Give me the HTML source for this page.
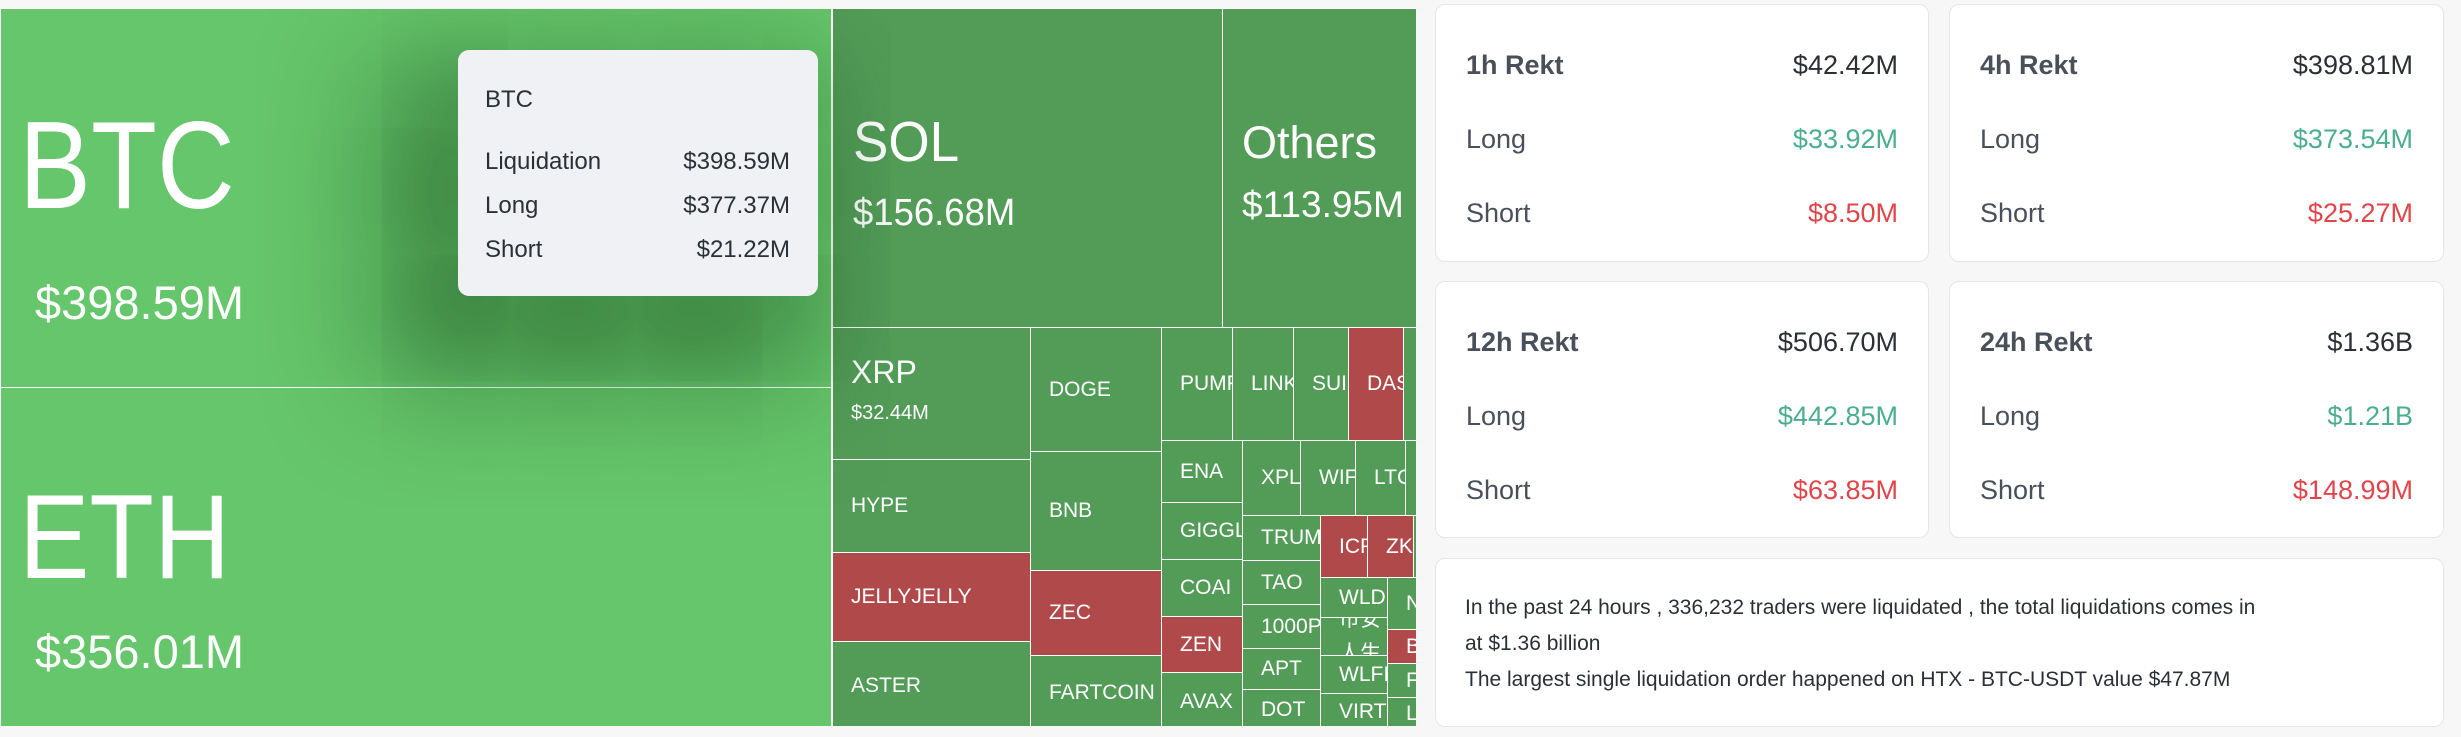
<!DOCTYPE html>
<html><head><meta charset="utf-8"><style>
*{margin:0;padding:0;box-sizing:border-box}
body{width:2461px;height:737px;background:#f7f7f8;position:relative;overflow:hidden;font-family:"Liberation Sans","Noto Sans CJK SC",sans-serif}
.t{position:absolute;border:1px solid #fff;background:#539c58;color:#fff;overflow:hidden;display:flex;align-items:center;padding-left:18px;font-size:21px;white-space:nowrap}
.r{background:#b04a4a}
.lg{background:#66c66b;display:block;padding:0}
.card{position:absolute;background:#fff;border:1.5px solid #e6e6e8;border-radius:10px}
.row{position:absolute;left:30px;right:30px;display:flex;justify-content:space-between;font-size:27px;line-height:30px;color:#4a505a}
.row b{font-weight:bold;color:#4a505a}
.v{color:#2b2f36}.g{color:#4aae8f}.rd{color:#e0454a}
</style></head><body>
<div id="tm" style="position:absolute;left:0;top:8px;width:1416px;height:718px;overflow:hidden">
<div class="t lg" style="left:0;top:0;width:832px;height:380px">
 <div style="position:absolute;left:18px;top:92px;font-size:124px;line-height:130px;transform:scaleX(0.87);transform-origin:left">BTC</div>
 <div style="position:absolute;left:34px;top:266px;font-size:47px;line-height:55px">$398.59M</div>
</div>
<div class="t lg" style="left:0;top:379px;width:832px;height:340px">
 <div style="position:absolute;left:18px;top:84px;font-size:120px;line-height:130px;transform:scaleX(0.88);transform-origin:left">ETH</div>
 <div style="position:absolute;left:34px;top:236px;font-size:47px;line-height:55px">$356.01M</div>
</div>
<div class="t" style="left:832px;top:0;width:391px;height:320px;display:block;padding:0">
 <div style="position:absolute;left:20px;top:100px;font-size:57px;line-height:66px;transform:scaleX(0.93);transform-origin:left">SOL</div>
 <div style="position:absolute;left:20px;top:182px;font-size:38px;line-height:44px;transform:scaleX(0.96);transform-origin:left">$156.68M</div>
</div>
<div class="t" style="left:1222px;top:0;width:196px;height:320px;display:block;padding:0">
 <div style="position:absolute;left:19px;top:108px;font-size:45px;line-height:52px">Others</div>
 <div style="position:absolute;left:19px;top:174px;font-size:37px;line-height:44px">$113.95M</div>
</div>
<div class="t" style="left:832px;top:319px;width:199px;height:133px;display:block;padding:0">
 <div style="position:absolute;left:18px;top:26px;font-size:32px;line-height:36px">XRP</div>
 <div style="position:absolute;left:18px;top:73px;font-size:20px;line-height:24px">$32.44M</div>
</div>
<div class="t" style="left:832px;top:451px;width:199px;height:94px">HYPE</div>
<div class="t r" style="left:832px;top:544px;width:199px;height:90px">JELLYJELLY</div>
<div class="t" style="left:832px;top:633px;width:199px;height:90px">ASTER</div>
<div class="t" style="left:1030px;top:319px;width:132px;height:125px">DOGE</div>
<div class="t" style="left:1030px;top:443px;width:132px;height:120px">BNB</div>
<div class="t r" style="left:1030px;top:562px;width:132px;height:86px">ZEC</div>
<div class="t" style="left:1030px;top:647px;width:132px;height:76px">FARTCOIN</div>
<div class="t" style="left:1161px;top:319px;width:72px;height:114px">PUMP</div>
<div class="t" style="left:1232px;top:319px;width:62px;height:114px">LINK</div>
<div class="t" style="left:1293px;top:319px;width:56px;height:114px">SUI</div>
<div class="t r" style="left:1348px;top:319px;width:56px;height:114px">DASH</div>
<div class="t" style="left:1403px;top:319px;width:20px;height:114px"></div>
<div class="t" style="left:1161px;top:432px;width:82px;height:63px">ENA</div>
<div class="t" style="left:1161px;top:494px;width:82px;height:58px">GIGGLE</div>
<div class="t" style="left:1161px;top:551px;width:82px;height:58px">COAI</div>
<div class="t r" style="left:1161px;top:608px;width:82px;height:57px">ZEN</div>
<div class="t" style="left:1161px;top:664px;width:82px;height:59px">AVAX</div>
<div class="t" style="left:1242px;top:432px;width:59px;height:76px">XPL</div>
<div class="t" style="left:1300px;top:432px;width:56px;height:76px">WIF</div>
<div class="t" style="left:1355px;top:432px;width:51px;height:76px">LTC</div>
<div class="t" style="left:1405px;top:432px;width:20px;height:76px"></div>
<div class="t" style="left:1242px;top:507px;width:79px;height:46px">TRUMP</div>
<div class="t" style="left:1242px;top:552px;width:79px;height:45px">TAO</div>
<div class="t" style="left:1242px;top:596px;width:79px;height:45px">1000PEPE</div>
<div class="t" style="left:1242px;top:640px;width:79px;height:42px">APT</div>
<div class="t" style="left:1242px;top:681px;width:79px;height:42px">DOT</div>
<div class="t r" style="left:1320px;top:507px;width:48px;height:63px">ICP</div>
<div class="t r" style="left:1367px;top:507px;width:47px;height:63px">ZK</div>
<div class="t" style="left:1413px;top:507px;width:10px;height:63px"></div>
<div class="t" style="left:1320px;top:569px;width:68px;height:41px">WLD</div>
<div class="t" style="left:1320px;top:609px;width:68px;height:39px;white-space:normal;line-height:34px;font-size:21px;width:68px"><span style="display:block;width:44px">币安人生</span></div>
<div class="t" style="left:1320px;top:647px;width:68px;height:39px">WLFI</div>
<div class="t" style="left:1320px;top:685px;width:68px;height:38px">VIRTUAL</div>
<div class="t" style="left:1387px;top:569px;width:36px;height:53px">NEAR</div>
<div class="t r" style="left:1387px;top:621px;width:36px;height:35px">BCH</div>
<div class="t" style="left:1387px;top:655px;width:36px;height:35px">FIL</div>
<div class="t" style="left:1387px;top:689px;width:36px;height:34px">LINEA</div>
<div style="position:absolute;left:458px;top:42px;width:360px;height:246px;background:#f0f1f5;border-radius:11px;box-shadow:-40px 50px 110px 40px rgba(20,70,25,0.5);color:#2b2f36;font-size:24px">
 <div style="position:absolute;left:27px;top:36px">BTC</div>
 <div style="position:absolute;left:27px;right:28px;top:98px;display:flex;justify-content:space-between"><span>Liquidation</span><span>$398.59M</span></div>
 <div style="position:absolute;left:27px;right:28px;top:142px;display:flex;justify-content:space-between"><span>Long</span><span>$377.37M</span></div>
 <div style="position:absolute;left:27px;right:28px;top:186px;display:flex;justify-content:space-between"><span>Short</span><span>$21.22M</span></div>
</div>
</div>

<div class="card" style="left:1435px;top:4px;width:494px;height:258px">
 <div class="row" style="top:45px"><b>1h Rekt</b><span class="v">$42.42M</span></div>
 <div class="row" style="top:119px"><span>Long</span><span class="g">$33.92M</span></div>
 <div class="row" style="top:193px"><span>Short</span><span class="rd">$8.50M</span></div>
</div>
<div class="card" style="left:1949px;top:4px;width:495px;height:258px">
 <div class="row" style="top:45px"><b>4h Rekt</b><span class="v">$398.81M</span></div>
 <div class="row" style="top:119px"><span>Long</span><span class="g">$373.54M</span></div>
 <div class="row" style="top:193px"><span>Short</span><span class="rd">$25.27M</span></div>
</div>
<div class="card" style="left:1435px;top:281px;width:494px;height:257px">
 <div class="row" style="top:45px"><b>12h Rekt</b><span class="v">$506.70M</span></div>
 <div class="row" style="top:119px"><span>Long</span><span class="g">$442.85M</span></div>
 <div class="row" style="top:193px"><span>Short</span><span class="rd">$63.85M</span></div>
</div>
<div class="card" style="left:1949px;top:281px;width:495px;height:257px">
 <div class="row" style="top:45px"><b>24h Rekt</b><span class="v">$1.36B</span></div>
 <div class="row" style="top:119px"><span>Long</span><span class="g">$1.21B</span></div>
 <div class="row" style="top:193px"><span>Short</span><span class="rd">$148.99M</span></div>
</div>
<div class="card" style="left:1435px;top:558px;width:1009px;height:169px">
 <div style="position:absolute;left:29px;top:31px;font-size:21px;line-height:36px;color:#2b2f36;width:960px">In the past 24 hours , 336,232 traders were liquidated , the total liquidations comes in<br>at $1.36 billion<br>The largest single liquidation order happened on HTX - BTC-USDT value $47.87M</div>
</div>
</body></html>
